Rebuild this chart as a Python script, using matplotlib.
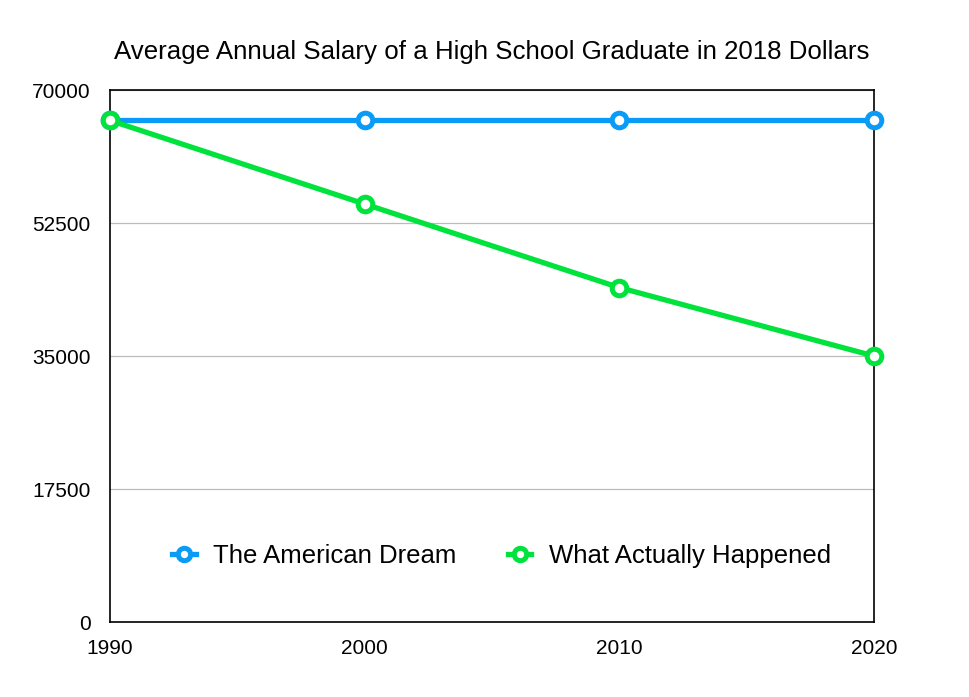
import matplotlib.pyplot as plt

plt.rcParams["font.family"] = ["Liberation Sans", "DejaVu Sans"]

years = [1990, 2000, 2010, 2020]
american_dream = [66000, 66000, 66000, 66000]
what_happened = [66000, 55000, 44000, 35000]
y_ticks = [0, 17500, 35000, 52500, 70000]

blue = "#0A9BF7"
green = "#00E23C"

fig = plt.figure(figsize=(9.7, 6.97), dpi=100)
ax = fig.add_axes([110 / 970, 1 - 622 / 697, 764 / 970, 532 / 697])

for vals, color, label in [(american_dream, blue, "The American Dream"),
                           (what_happened, green, "What Actually Happened")]:
    ax.plot(years, vals, color=color, linewidth=3.8, marker="o",
            markersize=10.5, markerfacecolor="white", markeredgecolor=color,
            markeredgewidth=3.6, label=label, clip_on=False, zorder=3)

ax.set_xlim(1990, 2020)
ax.set_ylim(0, 70000)
ax.set_xticks(years)
ax.set_yticks(y_ticks)
ax.set_yticklabels([str(v) for v in y_ticks])
ax.tick_params(length=0, labelsize=15)
ax.tick_params(axis="x", pad=12)
ax.tick_params(axis="y", pad=14)
ax.yaxis.grid(True, color="#BBBBBB", linewidth=0.9)
ax.set_axisbelow(True)
for s in ax.spines.values():
    s.set_linewidth(1.2)
    s.set_color("black")

ax.set_title("Average Annual Salary of a High School Graduate in 2018 Dollars",
             fontsize=18.6, pad=22)

ax.legend(loc="center", bbox_to_anchor=(0.513, 0.124), ncol=2, frameon=False,
          fontsize=18.5, handlelength=0.9, columnspacing=2.0, handletextpad=0.7,
          markerscale=0.85)

fig.savefig("out.png", dpi=100)
